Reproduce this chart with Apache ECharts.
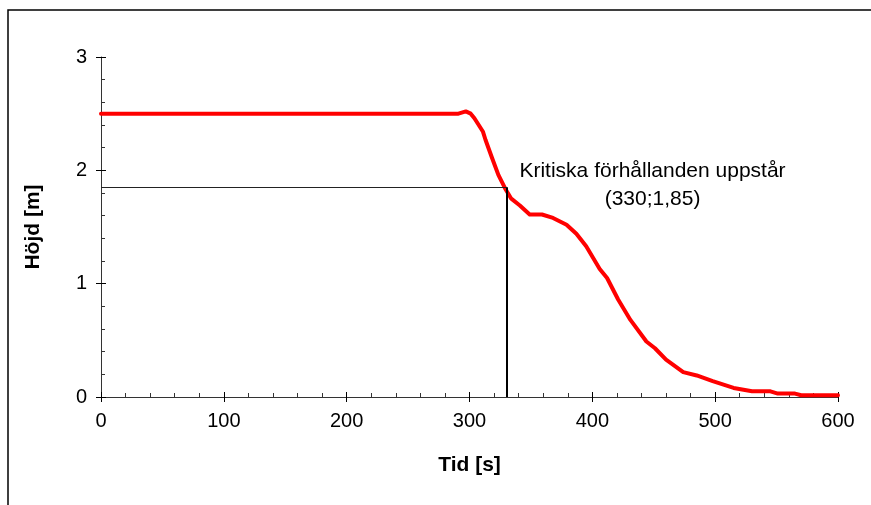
<!DOCTYPE html>
<html>
<head>
<meta charset="utf-8">
<script src="https://cdn.jsdelivr.net/npm/echarts@6/dist/echarts.min.js"></script>
<style>
html,body{margin:0;padding:0;background:#fff;}
#chart{width:871px;height:505px;}
</style>
</head>
<body>
<div id="chart"></div>
<script>
// Data
var times   = [0, 291, 297, 301, 304, 311, 313, 318, 323.5, 329, 334, 341, 349, 359, 368, 379, 387, 395, 406, 412, 421, 431, 444, 451, 460, 474, 485, 498, 515, 530, 545, 551, 565, 570, 600];
var heights = [2.5, 2.5, 2.52, 2.5, 2.46, 2.34, 2.27, 2.12, 1.96, 1.84, 1.75, 1.69, 1.61, 1.61, 1.58, 1.52, 1.44, 1.33, 1.13, 1.05, 0.86, 0.68, 0.49, 0.43, 0.33, 0.22, 0.19, 0.14, 0.08, 0.05, 0.05, 0.03, 0.03, 0.015, 0.015];
var critTime = 330;
var critHeight = 1.85;
var annotationLines = ['Kritiska förhållanden uppstår', '(330;1,85)'];
var annotationAt = [449, 1.87];
var xTicks = {min: 0, max: 600, interval: 100};
var yTicks = {min: 0, max: 3, interval: 1};
var xName = 'Tid [s]';
var yName = 'Höjd [m]';

var FONT = 'Liberation Sans, Arial, sans-serif';
var seriesData = times.map(function (t, i) { return [t, heights[i]]; });

var chart = echarts.init(document.getElementById('chart'), null, {renderer: 'canvas'});

function baseX(extra) {
  return Object.assign({
    type: 'value', position: 'bottom', gridIndex: 0,
    min: xTicks.min, max: xTicks.max, interval: xTicks.interval,
    splitLine: {show: false}
  }, extra);
}
function baseY(extra) {
  return Object.assign({
    type: 'value', position: 'left', gridIndex: 0,
    min: yTicks.min, max: yTicks.max, interval: yTicks.interval,
    splitLine: {show: false}
  }, extra);
}

var option = {
  animation: false,
  backgroundColor: '#fff',
  textStyle: {fontFamily: FONT},
  graphic: [{
    type: 'rect', silent: true,
    shape: {x: 8, y: 10, width: 1000, height: 700},
    style: {fill: 'none', stroke: '#000', lineWidth: 1.5}
  }],
  grid: {left: 101, right: 33, top: 57, bottom: 108, containLabel: false},
  xAxis: [
    baseX({
      name: xName, nameLocation: 'middle', nameGap: 58,
      nameTextStyle: {fontFamily: FONT, fontSize: 21, fontWeight: 'bold', color: '#000'},
      axisLine: {show: true, lineStyle: {color: '#333', width: 1}},
      axisTick: {show: true, inside: false, length: 5, lineStyle: {color: '#000', width: 1}},
      minorTick: {show: false},
      axisLabel: {show: true, margin: 14, fontFamily: FONT, fontSize: 20, color: '#000'}
    }),
    baseX({
      axisLine: {show: false},
      axisTick: {show: true, inside: true, length: 5, lineStyle: {color: '#000', width: 1}},
      minorTick: {show: true, splitNumber: 5, length: 4, lineStyle: {color: '#333', width: 1}},
      axisLabel: {show: false}
    })
  ],
  yAxis: [
    baseY({
      name: yName, nameLocation: 'middle', nameGap: 57, nameRotate: 90,
      nameTextStyle: {fontFamily: FONT, fontSize: 21, fontWeight: 'bold', color: '#000'},
      axisLine: {show: true, lineStyle: {color: '#333', width: 1}},
      axisTick: {show: true, inside: false, length: 5, lineStyle: {color: '#000', width: 1}},
      minorTick: {show: false},
      axisLabel: {show: true, margin: 14, fontFamily: FONT, fontSize: 20, color: '#000'}
    }),
    baseY({
      axisLine: {show: false},
      axisTick: {show: true, inside: true, length: 5, lineStyle: {color: '#000', width: 1}},
      minorTick: {show: true, splitNumber: 5, length: 4, lineStyle: {color: '#333', width: 1}},
      axisLabel: {show: false}
    })
  ],
  series: [
    {
      type: 'line', xAxisIndex: 0, yAxisIndex: 0, z: 1,
      data: [], silent: true,
      markLine: {
        silent: true, symbol: 'none', animation: false,
        label: {show: false},
        data: [
          [{coord: [xTicks.min, critHeight], lineStyle: {color: '#222', width: 1, type: 'solid'}},
           {coord: [critTime, critHeight]}],
          [{coord: [critTime, yTicks.min], lineStyle: {color: '#000', width: 2, type: 'solid'}},
           {coord: [critTime, critHeight]}]
        ]
      },
      markPoint: {
        silent: true, symbol: 'circle', symbolSize: 0,
        label: {
          show: true, position: 'inside', align: 'center', verticalAlign: 'middle',
          fontFamily: FONT, fontSize: 21, color: '#000', lineHeight: 28,
          formatter: annotationLines.join('\n')
        },
        data: [{coord: annotationAt}]
      }
    },
    {
      type: 'line', xAxisIndex: 0, yAxisIndex: 0, z: 3,
      data: seriesData, showSymbol: false, symbol: 'none', smooth: false,
      lineStyle: {color: '#ff0000', width: 4, join: 'round', cap: 'round'}
    }
  ]
};
chart.setOption(option);
</script>
</body>
</html>
